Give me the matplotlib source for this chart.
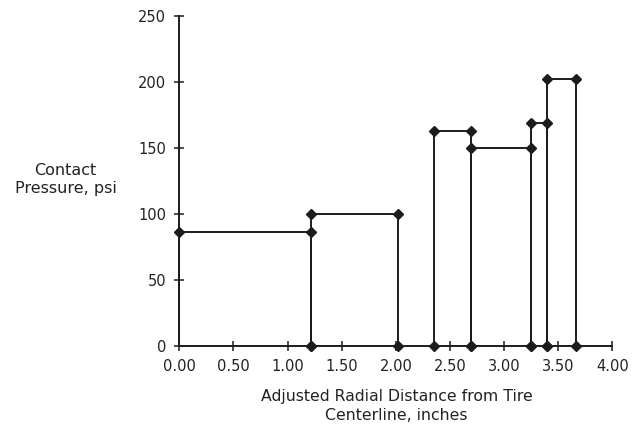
import matplotlib
matplotlib.use("Agg")
import matplotlib.pyplot as plt

# Step segments: start x, end x, contact pressure
x_start = [0.00, 1.22, 2.35, 2.69, 3.25, 3.40]
x_end = [1.22, 2.02, 2.69, 3.25, 3.40, 3.66]
pressure = [86, 100, 163, 150, 169, 202]

x_ticks = [0.0, 0.5, 1.0, 1.5, 2.0, 2.5, 3.0, 3.5, 4.0]
x_tick_labels = ["0.00", "0.50", "1.00", "1.50", "2.00", "2.50", "3.00", "3.50", "4.00"]
y_ticks = [0, 50, 100, 150, 200, 250]

plt.rcParams['font.family'] = ['DejaVu Sans']

fig = plt.figure(figsize=(6.37, 4.25), dpi=100)
ax = fig.add_axes([0.2815, 0.1859, 0.6798, 0.7774])

col = "#1c1c1c"
for x0, x1, p in zip(x_start, x_end, pressure):
    xs = [x0, x0, x1, x1]
    ys = [0, p, p, 0]
    ax.plot(xs, ys, color=col, lw=1.4, zorder=2, clip_on=False)
    mx = [x for x, y in zip(xs, ys) if not (x == 0 and y == 0)]
    my = [y for x, y in zip(xs, ys) if not (x == 0 and y == 0)]
    ax.plot(mx, my, linestyle="none", marker="D", ms=5.5, color=col,
            zorder=3, clip_on=False)

ax.set_xlim(0, 4)
ax.set_ylim(0, 250)
ax.set_xticks(x_ticks)
ax.set_xticklabels(x_tick_labels)
ax.set_yticks(y_ticks)
for s in ("top", "right"):
    ax.spines[s].set_visible(False)
for s in ("left", "bottom"):
    ax.spines[s].set_color(col)
    ax.spines[s].set_linewidth(1.4)
ax.tick_params(direction="inout", length=7, width=1.1, color=col,
               labelsize=10.5, labelcolor="#222222")
ax.tick_params(axis="x", pad=6)
ax.tick_params(axis="y", pad=6)

fig.text(0.103, 0.578, "Contact\nPressure, psi", ha="center", va="center",
         fontsize=11.5, color="#222222", linespacing=1.3)
fig.text(0.6225, 0.0447, "Adjusted Radial Distance from Tire\nCenterline, inches",
         ha="center", va="center", fontsize=11.3, color="#222222", linespacing=1.28)

fig.savefig("out.png", dpi=100)
